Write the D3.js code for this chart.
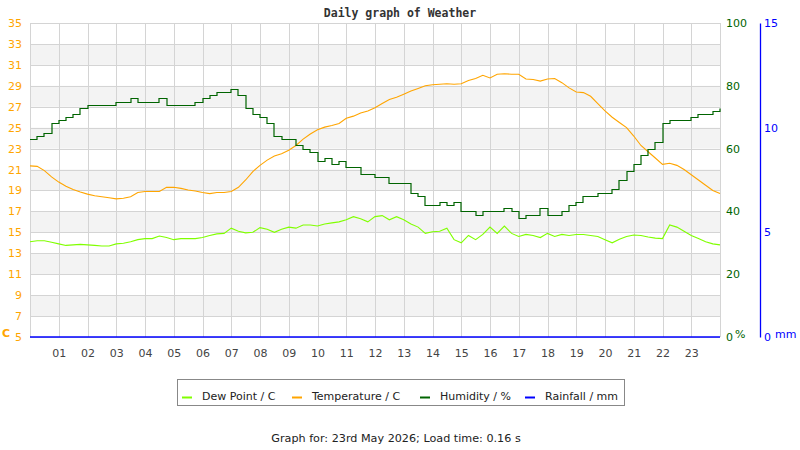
<!DOCTYPE html>
<html>
<head>
<meta charset="utf-8">
<script src="https://cdn.jsdelivr.net/npm/d3@7"></script>
<style>
  body { margin: 0; background: #fff; }
  svg text { font-family: "DejaVu Sans", sans-serif; }
</style>
</head>
<body>
<svg id="chart"></svg>
<script>
// Readings every 15 minutes, from 00:00 to 24:00
const sampleMinutes = 15;

const temperature = [
  21.35, 21.3, 20.9, 20.3, 19.8, 19.4, 19.1, 18.85, 18.65, 18.5, 18.4, 18.3,
  18.2, 18.25, 18.4, 18.8, 18.9, 18.9, 18.9, 19.3, 19.3, 19.2, 19.05, 18.95,
  18.8, 18.7, 18.8, 18.8, 18.9, 19.3, 20.0, 20.8, 21.4, 21.9, 22.3, 22.5,
  22.85, 23.3, 23.9, 24.4, 24.8, 25.05, 25.2, 25.4, 25.9, 26.1, 26.4, 26.6,
  26.9, 27.3, 27.7, 27.9, 28.2, 28.5, 28.75, 29.0, 29.1, 29.15, 29.2, 29.15,
  29.2, 29.5, 29.7, 30.0, 29.75, 30.1, 30.15, 30.1, 30.1, 29.65, 29.6, 29.45,
  29.65, 29.7, 29.3, 28.8, 28.4, 28.35, 28.0, 27.3, 26.6, 26.0, 25.5, 25.0,
  24.2, 23.3, 22.7, 22.1, 21.5, 21.6, 21.4, 21.0, 20.5, 20.0, 19.5, 19.0, 18.7
];

const dewPoint = [
  14.1, 14.2, 14.2, 14.05, 13.9, 13.75, 13.8, 13.85, 13.8, 13.75, 13.7, 13.7,
  13.9, 13.95, 14.1, 14.3, 14.4, 14.4, 14.65, 14.5, 14.3, 14.4, 14.4, 14.4,
  14.5, 14.7, 14.85, 14.9, 15.4, 15.1, 14.95, 15.0, 15.45, 15.3, 15.0, 15.3,
  15.5, 15.4, 15.7, 15.7, 15.6, 15.8, 15.9, 16.0, 16.2, 16.5, 16.3, 16.0,
  16.5, 16.6, 16.2, 16.5, 16.2, 15.8, 15.5, 14.9, 15.05, 15.1, 15.4, 14.3,
  14.0, 14.7, 14.3, 14.8, 15.5, 14.9, 15.6, 14.9, 14.6, 14.8, 14.7, 14.5,
  14.9, 14.6, 14.8, 14.7, 14.8, 14.8, 14.7, 14.6, 14.3, 14.0, 14.35, 14.6,
  14.75, 14.7, 14.55, 14.45, 14.4, 15.7, 15.5, 15.1, 14.7, 14.4, 14.1, 13.9, 13.8
];

const humidity = [
  63, 64, 65, 68, 69, 70, 71, 73, 74, 74, 74, 74,
  75, 75, 76, 75, 75, 75, 76, 74, 74, 74, 74, 75,
  76, 77, 78, 78, 79, 77, 73, 71, 70, 68, 64, 63,
  63, 61, 60, 59, 56, 57, 55, 56, 54, 54, 52, 52,
  51, 51, 49, 49, 49, 46, 45, 42, 42, 43, 42, 43,
  40, 40, 39, 40, 40, 40, 41, 40, 38, 39, 39, 41,
  39, 39, 40, 42, 43, 45, 45, 46, 46, 47, 50, 53,
  55, 58, 60, 62, 68, 69, 69, 69, 70, 71, 71, 72, 73
];

// Rainfall per hour (mm), nothing fell all day
const rainfall = [0, 0, 0, 0, 0, 0, 0, 0, 0, 0, 0, 0, 0, 0, 0, 0, 0, 0, 0, 0, 0, 0, 0, 0, 0];

const hourLabels = ["01", "02", "03", "04", "05", "06", "07", "08", "09", "10", "11", "12",
  "13", "14", "15", "16", "17", "18", "19", "20", "21", "22", "23"];
const tempTicks = [5, 7, 9, 11, 13, 15, 17, 19, 21, 23, 25, 27, 29, 31, 33, 35];
const humidityTicks = [0, 20, 40, 60, 80, 100];
const rainTicks = [0, 5, 10, 15];

const legendItems = [
  { label: "Dew Point / C", color: "#80ff00" },
  { label: "Temperature / C", color: "#ffa500" },
  { label: "Humidity / %", color: "#006400" },
  { label: "Rainfall / mm", color: "#0000ff" }
];

const width = 800, height = 450;
const plot = { left: 30, right: 720, top: 23, bottom: 337 };

const svg = d3.select("#chart")
  .attr("width", width)
  .attr("height", height);

const x = d3.scaleLinear().domain([0, 24]).range([plot.left, plot.right]);
const yTemp = d3.scaleLinear().domain([5, 35]).range([plot.bottom, plot.top]);
const yHum = d3.scaleLinear().domain([0, 100]).range([plot.bottom, plot.top]);
const yRain = d3.scaleLinear().domain([0, 15]).range([plot.bottom, plot.top]);

// Alternate grey bands, every other 2 degree row
const bands = tempTicks.slice(0, -1).map((t, i) => ({ lo: t, hi: t + 2, grey: i % 2 === 1 }));
svg.append("g")
  .selectAll("rect")
  .data(bands.filter(d => d.grey))
  .enter()
  .append("rect")
  .attr("x", plot.left)
  .attr("width", plot.right - plot.left)
  .attr("y", d => yTemp(d.hi))
  .attr("height", d => yTemp(d.lo) - yTemp(d.hi))
  .attr("fill", "#f3f3f3");

// Grid lines
const grid = svg.append("g").attr("stroke", "#d4d4d4").attr("stroke-width", 1);
grid.selectAll(".hgrid")
  .data(tempTicks)
  .enter()
  .append("line")
  .attr("x1", plot.left).attr("x2", plot.right)
  .attr("y1", d => Math.round(yTemp(d)) + 0.5)
  .attr("y2", d => Math.round(yTemp(d)) + 0.5);
grid.selectAll(".vgrid")
  .data(d3.range(0, 25))
  .enter()
  .append("line")
  .attr("y1", plot.top).attr("y2", plot.bottom)
  .attr("x1", d => Math.round(x(d)) + 0.5)
  .attr("x2", d => Math.round(x(d)) + 0.5);

// Series
const timeOf = i => i * sampleMinutes / 60;

const tempLine = d3.line()
  .x((d, i) => x(timeOf(i)))
  .y(d => yTemp(d));

const humLine = d3.line()
  .x((d, i) => Math.round(x(timeOf(i))))
  .y(d => Math.round(yHum(d)) + 0.5)
  .curve(d3.curveStepAfter);

const rainLine = d3.line()
  .x((d, i) => x(i))
  .y(d => yRain(d));

svg.append("path")
  .datum(dewPoint)
  .attr("d", tempLine)
  .attr("fill", "none")
  .attr("stroke", "#80ff00")
  .attr("stroke-width", 1.1);

svg.append("path")
  .datum(temperature)
  .attr("d", tempLine)
  .attr("fill", "none")
  .attr("stroke", "#ffa500")
  .attr("stroke-width", 1.1);

svg.append("path")
  .datum(humidity)
  .attr("d", humLine)
  .attr("fill", "none")
  .attr("stroke", "#006400")
  .attr("stroke-width", 1.2);

svg.append("path")
  .datum(rainfall)
  .attr("d", rainLine)
  .attr("fill", "none")
  .attr("stroke", "#0000ff")
  .attr("stroke-width", 1.6);

// Axes
const styleAxis = (g, color) => {
  g.select(".domain").remove();
  g.selectAll("text")
    .attr("fill", color)
    .style("font-size", "11px")
    .style("font-family", "DejaVu Sans, sans-serif");
};

svg.append("g")
  .attr("transform", `translate(${plot.left},0)`)
  .call(d3.axisLeft(yTemp).tickValues(tempTicks).tickSize(0).tickPadding(8))
  .call(g => styleAxis(g, "#ffa500"));

svg.append("g")
  .attr("transform", `translate(${plot.right},0)`)
  .call(d3.axisRight(yHum).tickValues(humidityTicks).tickSize(0).tickPadding(6))
  .call(g => styleAxis(g, "#006400"));

const rainAxis = svg.append("g")
  .attr("transform", "translate(760,0)")
  .call(d3.axisRight(yRain).tickValues(rainTicks).tickSizeInner(0).tickSizeOuter(0).tickPadding(4));
rainAxis.selectAll("text")
  .attr("fill", "#0000ff")
  .style("font-size", "11px");
rainAxis.select(".domain").attr("stroke", "#0000ff").attr("stroke-width", 1.3);

svg.append("g")
  .attr("transform", `translate(0,${plot.bottom})`)
  .call(d3.axisBottom(x)
    .tickValues(d3.range(1, 24))
    .tickFormat((d, i) => hourLabels[i])
    .tickSize(0)
    .tickPadding(12))
  .call(g => styleAxis(g, "#444"));

// Unit labels
svg.append("text")
  .attr("x", 2).attr("y", 337)
  .attr("fill", "#ffa500")
  .style("font-size", "11px")
  .style("font-weight", "bold")
  .text("C");
svg.append("text")
  .attr("x", 735).attr("y", 338)
  .attr("fill", "#006400")
  .style("font-size", "11px")
  .text("%");
svg.append("text")
  .attr("x", 775).attr("y", 338)
  .attr("fill", "#0000ff")
  .style("font-size", "11px")
  .text("mm");

// Title
svg.append("text")
  .attr("x", 400).attr("y", 17)
  .attr("text-anchor", "middle")
  .attr("fill", "#333")
  .style("font-family", "DejaVu Sans Mono, monospace")
  .style("font-weight", "bold")
  .style("font-size", "11.5px")
  .text("Daily graph of Weather");

// Legend
const legend = svg.append("g");
legend.append("rect")
  .attr("x", 177.5).attr("y", 379.5)
  .attr("width", 447).attr("height", 26)
  .attr("fill", "#fff")
  .attr("stroke", "#888");

const legendX = [182, 292, 420, 525];
const item = legend.selectAll(".item")
  .data(legendItems)
  .enter()
  .append("g")
  .attr("transform", (d, i) => `translate(${legendX[i]},0)`);
item.append("line")
  .attr("x1", 0).attr("x2", 10)
  .attr("y1", 397.5).attr("y2", 397.5)
  .attr("stroke", d => d.color)
  .attr("stroke-width", 2);
item.append("text")
  .attr("x", 20).attr("y", 400)
  .attr("fill", "#222")
  .style("font-size", "11px")
  .text(d => d.label);

// Footer
svg.append("text")
  .attr("x", 396).attr("y", 442)
  .attr("text-anchor", "middle")
  .attr("fill", "#222")
  .style("font-size", "11.2px")
  .text("Graph for: 23rd May 2026; Load time: 0.16 s");
</script>
</body>
</html>
